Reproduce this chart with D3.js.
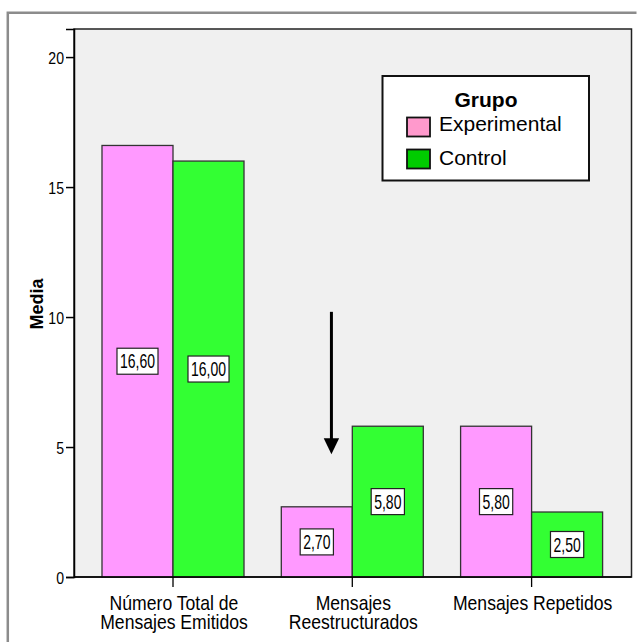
<!DOCTYPE html>
<html>
<head>
<meta charset="utf-8">
<script src="https://cdn.jsdelivr.net/npm/d3@7"></script>
<style>
  html, body { margin: 0; padding: 0; background: #fff; }
  svg { display: block; font-family: "Liberation Sans", Arial, sans-serif; }
</style>
</head>
<body>
<svg id="chart" width="639" height="642"></svg>
<script>
// ---- data ----
const categories = [["Número Total de", "Mensajes Emitidos"], ["Mensajes", "Reestructurados"], ["Mensajes Repetidos"]];
const groups = ["Experimental", "Control"];
const experimental = [16.6, 2.7, 5.8];
const control = [16.0, 5.8, 2.5];
const yTicks = [0, 5, 10, 15, 20];
const yMax = 21.08;
const legendTitle = "Grupo";
const yTitle = "Media";
// arrow annotation (in data units): category index, fraction across band, from value, to value
const arrowNote = { cat: 1, frac: 0.353, from: 10.2, to: 4.72 };

const catKeys = categories.map((c, i) => i);
const series = { Experimental: experimental, Control: control };
const barColors = { Experimental: "#ff99ff", Control: "#33ff33" };
const legendColors = { Experimental: "#ff99cc", Control: "#00cc00" };

const svg = d3.select("#chart");

// outer frame
svg.append("path").attr("d", "M7.8,642 L7.8,12.8 L636.5,12.8")
  .attr("fill", "none").attr("stroke", "#8c8c8c").attr("stroke-width", 2.5);

const plot = { left: 74, right: 631.5, top: 29, bottom: 577 };

const y = d3.scaleLinear().domain([0, yMax]).range([plot.bottom, plot.top]);
const x = d3.scaleBand().domain(catKeys).range([83.35, 621.25]).paddingInner(0.208).paddingOuter(0.104);
const xs = d3.scaleBand().domain(groups).range([0, x.bandwidth()]);

// plot background
svg.append("rect").attr("x", plot.left).attr("y", plot.top)
  .attr("width", plot.right - plot.left).attr("height", plot.bottom - plot.top)
  .attr("fill", "#f0f0f0").attr("stroke", "#222").attr("stroke-width", 1.5);

// bars
const rows = [];
catKeys.forEach(i => groups.forEach(g => rows.push({ cat: i, g, v: series[g][i] })));

svg.append("g").selectAll("rect").data(rows).join("rect")
  .attr("x", d => x(d.cat) + xs(d.g))
  .attr("y", d => y(d.v))
  .attr("width", xs.bandwidth())
  .attr("height", d => y(0) - y(d.v))
  .attr("fill", d => barColors[d.g])
  .attr("stroke", "#333").attr("stroke-width", 1.3);

// value labels
const fmt = v => d3.format(".2f")(v).replace(".", ",");
const lab = svg.append("g").selectAll("g").data(rows).join("g")
  .attr("transform", d => `translate(${x(d.cat) + xs(d.g) + xs.bandwidth() / 2},${(y(d.v) + y(0)) / 2})`);
lab.each(function (d) {
  const gsel = d3.select(this);
  const s = fmt(d.v);
  const t = gsel.append("text").text(s)
    .attr("font-size", 20).attr("text-anchor", "middle")
    .attr("transform", "scale(0.7,1)")
    .attr("y", 7).attr("fill", "#000");
  const w = t.node().getComputedTextLength() * 0.7;
  gsel.insert("rect", "text")
    .attr("x", -w / 2 - 3).attr("y", -13)
    .attr("width", w + 6).attr("height", 26)
    .attr("fill", "#fff").attr("stroke", "#222").attr("stroke-width", 1.2);
});

// y axis
const yAxis = d3.axisLeft(y).tickValues(yTicks).tickSize(8).tickPadding(2).tickFormat(d3.format("d"));
const ya = svg.append("g").attr("transform", `translate(${plot.left},0)`).call(yAxis);
ya.select(".domain").attr("stroke", "#000").attr("stroke-width", 1.5);
ya.selectAll(".tick line").attr("stroke", "#000").attr("stroke-width", 1.5);
ya.selectAll(".tick text")
  .attr("font-size", 16).attr("font-family", "Liberation Sans, Arial, sans-serif")
  .attr("fill", "#000").attr("dy", null).attr("y", 6)
  .attr("transform", function () { return `translate(-10,0) scale(0.88,1)`; })
  .attr("x", 0);

// x axis
const xAxis = d3.axisBottom(x).tickSize(10).tickFormat(() => "");
const xa = svg.append("g").attr("transform", `translate(0,${plot.bottom})`).call(xAxis);
xa.select(".domain").remove();
xa.selectAll(".tick line").attr("stroke", "#000").attr("stroke-width", 1.3);

// baseline
svg.append("line").attr("x1", plot.left).attr("x2", plot.right)
  .attr("y1", y(0)).attr("y2", y(0)).attr("stroke", "#000").attr("stroke-width", 1.5);

// x category labels
const xl = svg.append("g").selectAll("text").data(catKeys).join("text")
  .attr("transform", d => `translate(${x(d) + x.bandwidth() / 2 + 1},610) scale(0.88,1)`)
  .attr("text-anchor", "middle").attr("font-size", 20).attr("fill", "#000");
xl.each(function (d) {
  d3.select(this).selectAll("tspan").data(categories[d]).join("tspan")
    .attr("x", 0).attr("y", (t, j) => j * 19.5).text(t => t);
});

// y title
svg.append("text").text(yTitle)
  .attr("transform", `translate(43,${(plot.top + plot.bottom) / 2 + 1}) rotate(-90)`)
  .attr("text-anchor", "middle").attr("font-size", 18).attr("font-weight", "bold").attr("fill", "#000");

// arrow annotation
const ax = x(arrowNote.cat) + x.bandwidth() * arrowNote.frac;
svg.append("line").attr("x1", ax).attr("x2", ax)
  .attr("y1", y(arrowNote.from)).attr("y2", y(arrowNote.to) - 12)
  .attr("stroke", "#000").attr("stroke-width", 3);
svg.append("path")
  .attr("d", `M${ax - 7.7},${y(arrowNote.to) - 16} L${ax + 7.7},${y(arrowNote.to) - 16} L${ax},${y(arrowNote.to)} Z`)
  .attr("fill", "#000");

// legend
const lg = svg.append("g");
lg.append("rect").attr("x", 382.5).attr("y", 76).attr("width", 206.5).attr("height", 104.5)
  .attr("fill", "#fff").attr("stroke", "#111").attr("stroke-width", 2);
lg.append("text").text(legendTitle).attr("x", 486).attr("y", 106.7)
  .attr("text-anchor", "middle").attr("font-size", 21).attr("font-weight", "bold").attr("fill", "#000");
const li = lg.selectAll("g.item").data(groups).join("g").attr("class", "item")
  .attr("transform", (d, i) => `translate(0,${i * 32})`);
li.append("rect").attr("x", 407).attr("y", 117.5).attr("width", 23).attr("height", 19)
  .attr("fill", d => legendColors[d]).attr("stroke", "#111").attr("stroke-width", 1.8);
li.append("text").text(d => d).attr("x", 439).attr("y", (d, i) => i === 0 ? 130.7 : 133)
  .attr("font-size", 21).attr("fill", "#000");
</script>
</body>
</html>
